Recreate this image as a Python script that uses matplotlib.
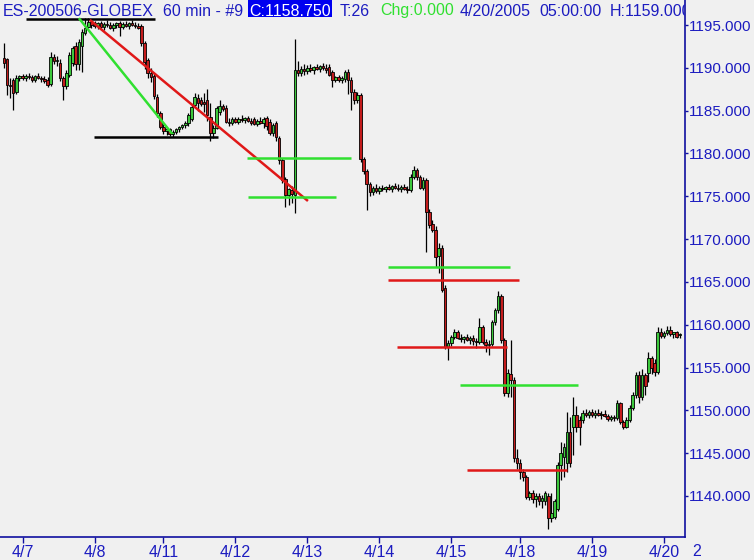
import numpy as np
import matplotlib.pyplot as plt
from matplotlib.patches import Rectangle

# 60 min bars, ES-200506 GLOBEX, 4/6 evening .. 4/20 05:00
opens = [
    1191.2, 1191.0, 1188.0, 1188.6, 1187.2, 1188.8,
    1189.0, 1188.8, 1189.0, 1188.9, 1188.6, 1189.0, 1188.8, 1188.7, 1188.6, 1188.1, 1191.3, 1190.8,
    1190.6, 1188.8, 1187.9, 1189.2, 1190.6, 1192.6, 1190.5, 1192.5, 1194.1, 1194.8, 1195.3,
    1195.0, 1194.9, 1195.2, 1194.8, 1195.1, 1195.0, 1194.7, 1195.0, 1195.2, 1194.8, 1195.1, 1194.9,
    1195.2, 1195.0, 1194.9, 1194.9, 1192.9, 1190.9, 1189.4, 1189.0, 1186.6, 1184.7,
    1183.1, 1182.6, 1182.8, 1182.3, 1182.5, 1182.8, 1183.1, 1183.3, 1183.5, 1184.0, 1185.6, 1186.5,
    1186.2, 1186.0, 1186.2, 1184.3, 1182.4, 1183.0, 1184.8, 1185.5, 1185.3, 1183.7, 1183.5,
    1184.0, 1183.7, 1184.0, 1183.9, 1184.1, 1183.8, 1184.0, 1183.4, 1183.8, 1183.6, 1184.1, 1183.7,
    1182.4, 1183.5, 1181.8, 1179.2, 1177.0, 1175.2, 1175.7, 1175.2, 1189.7, 1189.4, 1189.9,
    1189.6, 1190.0, 1189.7, 1190.1, 1189.9, 1190.2, 1190.0, 1190.1, 1189.5, 1188.6, 1188.9, 1188.6,
    1188.7, 1189.5, 1188.6, 1187.2, 1186.2, 1186.8, 1179.3, 1178.0, 1176.4, 1175.5, 1176.0,
    1175.6, 1176.0, 1175.8, 1176.1, 1175.9, 1176.2, 1176.0, 1175.8, 1176.1, 1175.9, 1175.7, 1177.3,
    1178.1, 1177.2, 1176.0, 1176.9, 1173.2, 1171.8, 1171.1, 1168.0, 1169.0, 1164.3, 1157.4,
    1157.9, 1158.6, 1159.2, 1158.5, 1158.3, 1158.6, 1158.2, 1158.5, 1158.1, 1158.0, 1159.7,
    1158.0, 1157.6, 1157.8, 1160.3, 1161.7, 1163.3, 1158.2, 1152.0, 1154.2, 1153.6, 1144.4,
    1143.8, 1142.8, 1142.2, 1139.9, 1140.3, 1139.6, 1140.0, 1139.4, 1139.4, 1140.0, 1137.4, 1137.6,
    1138.5, 1143.6, 1144.6, 1143.8, 1147.5, 1148.0, 1149.5, 1148.9, 1148.9, 1149.7, 1149.4,
    1149.8, 1149.5, 1149.7, 1149.4, 1149.6, 1149.3, 1149.0, 1149.2, 1149.1, 1150.8, 1148.6, 1148.1,
    1148.9, 1150.3, 1151.8, 1154.1, 1151.6, 1154.1, 1154.4, 1156.1, 1155.5, 1154.5, 1159.2,
    1158.7, 1159.0, 1159.4, 1158.9, 1159.1, 1158.75,
]
highs = [
    1192.9, 1191.2, 1188.8, 1188.8, 1189.2, 1189.2,
    1189.3, 1189.3, 1189.4, 1189.2, 1189.2, 1189.4, 1189.1, 1189.0, 1188.9, 1191.8, 1191.6, 1191.4,
    1191.0, 1189.0, 1189.8, 1191.8, 1192.6, 1193.0, 1193.4, 1194.5, 1195.8, 1195.8, 1195.7,
    1195.5, 1195.4, 1195.5, 1195.3, 1195.6, 1195.3, 1195.2, 1195.4, 1195.5, 1195.3, 1195.5, 1195.3,
    1195.6, 1195.3, 1195.2, 1195.1, 1193.1, 1191.2, 1190.0, 1189.4, 1186.9, 1185.0,
    1183.4, 1183.0, 1183.0, 1182.7, 1183.0, 1183.2, 1183.4, 1183.8, 1184.7, 1185.6, 1187.1, 1187.0,
    1186.6, 1187.1, 1187.5, 1185.9, 1183.3, 1185.5, 1186.2, 1185.8, 1185.6, 1184.1, 1184.2,
    1184.3, 1184.2, 1184.5, 1184.2, 1184.4, 1184.1, 1184.3, 1184.0, 1184.2, 1184.3, 1184.4, 1184.0,
    1183.5, 1183.8, 1182.0, 1179.5, 1177.3, 1176.0, 1176.2, 1193.4, 1190.8, 1190.2, 1190.4,
    1190.3, 1190.4, 1190.2, 1190.5, 1190.3, 1190.6, 1190.4, 1190.4, 1189.8, 1189.1, 1189.2, 1189.0,
    1189.8, 1189.9, 1188.9, 1187.5, 1187.2, 1187.1, 1179.6, 1178.2, 1176.7, 1176.2, 1176.4,
    1176.2, 1176.3, 1176.2, 1176.4, 1176.3, 1176.5, 1176.4, 1176.3, 1176.4, 1176.2, 1177.6, 1178.5,
    1178.3, 1177.5, 1177.2, 1177.1, 1173.5, 1172.2, 1171.5, 1169.5, 1169.3, 1164.6, 1158.2,
    1158.8, 1159.5, 1159.4, 1158.9, 1158.7, 1158.9, 1158.7, 1158.8, 1158.5, 1160.8, 1160.0,
    1158.3, 1158.2, 1160.5, 1161.9, 1163.9, 1163.6, 1158.5, 1154.8, 1158.2, 1153.9, 1145.5,
    1144.3, 1143.2, 1142.5, 1140.6, 1140.7, 1140.3, 1140.4, 1140.1, 1140.6, 1140.3, 1140.4, 1139.6,
    1144.0, 1146.3, 1146.2, 1149.8, 1149.2, 1151.6, 1150.5, 1149.3, 1150.0, 1150.2, 1150.0,
    1150.1, 1150.0, 1150.1, 1149.9, 1150.0, 1149.6, 1149.4, 1149.5, 1151.2, 1151.0, 1148.9, 1149.2,
    1150.6, 1152.1, 1154.5, 1154.6, 1154.8, 1154.4, 1156.8, 1156.4, 1156.0, 1159.7, 1159.6,
    1159.3, 1159.8, 1159.9, 1159.2, 1159.3, 1159.0,
]
lows = [
    1190.0, 1186.8, 1186.5, 1185.1, 1186.9, 1188.5,
    1188.6, 1188.5, 1188.7, 1188.4, 1188.4, 1188.7, 1188.3, 1188.2, 1187.8, 1187.9, 1190.5, 1190.2,
    1188.5, 1186.2, 1187.5, 1188.9, 1190.2, 1189.8, 1189.8, 1189.5, 1193.8, 1194.6, 1194.7,
    1194.6, 1194.5, 1194.7, 1194.4, 1194.8, 1194.5, 1194.3, 1194.7, 1193.7, 1194.5, 1194.8, 1194.5,
    1194.9, 1194.6, 1194.5, 1192.6, 1189.9, 1188.8, 1188.4, 1186.4, 1184.3, 1182.8,
    1182.3, 1182.1, 1182.0, 1181.9, 1182.3, 1182.5, 1182.8, 1183.0, 1183.2, 1183.8, 1185.4, 1185.0,
    1185.5, 1184.8, 1183.8, 1181.5, 1181.8, 1182.8, 1184.5, 1184.9, 1183.6, 1183.2, 1183.3,
    1183.5, 1183.4, 1183.7, 1183.5, 1183.7, 1183.3, 1183.3, 1183.2, 1183.4, 1183.0, 1182.7, 1182.2,
    1182.0, 1181.5, 1178.8, 1176.6, 1173.7, 1174.0, 1174.2, 1173.0, 1189.0, 1189.1, 1189.2,
    1189.3, 1189.5, 1189.3, 1189.7, 1189.5, 1189.8, 1189.4, 1189.0, 1187.8, 1188.3, 1188.4, 1188.2,
    1188.4, 1187.0, 1185.1, 1185.8, 1185.9, 1179.0, 1177.6, 1173.4, 1175.0, 1175.2, 1175.4,
    1175.3, 1175.6, 1175.5, 1175.7, 1175.5, 1175.8, 1175.6, 1175.5, 1175.7, 1175.4, 1175.5, 1177.0,
    1176.9, 1175.8, 1175.7, 1168.5, 1171.3, 1170.8, 1166.7, 1166.0, 1163.8, 1157.2, 1155.9,
    1157.5, 1158.3, 1158.3, 1158.0, 1157.9, 1158.1, 1157.8, 1157.6, 1157.3, 1157.8, 1157.8,
    1156.8, 1156.5, 1157.5, 1160.0, 1161.4, 1157.9, 1151.7, 1151.6, 1151.6, 1144.0, 1143.2,
    1142.0, 1141.8, 1139.6, 1139.5, 1139.2, 1138.7, 1139.0, 1138.6, 1139.0, 1136.1, 1137.0, 1137.3,
    1138.2, 1141.9, 1142.2, 1142.8, 1143.4, 1144.8, 1147.5, 1146.0, 1148.5, 1149.2, 1149.1,
    1149.2, 1149.1, 1149.3, 1149.0, 1149.2, 1148.8, 1148.7, 1148.8, 1148.9, 1148.4, 1147.8, 1147.9,
    1148.6, 1150.0, 1151.5, 1150.9, 1151.2, 1151.8, 1153.3, 1154.2, 1154.0, 1154.2, 1158.5,
    1158.4, 1158.8, 1158.7, 1158.4, 1158.5, 1158.5,
]
closes = [
    1190.6, 1188.0, 1187.9, 1187.1, 1188.8, 1189.0,
    1188.8, 1189.0, 1188.9, 1188.6, 1189.0, 1188.8, 1188.7, 1188.5, 1188.0, 1191.3, 1190.8, 1190.9,
    1188.8, 1187.9, 1189.4, 1191.5, 1192.3, 1190.4, 1193.0, 1194.2, 1194.7, 1195.3, 1195.0,
    1194.9, 1195.2, 1194.8, 1195.1, 1195.0, 1194.7, 1195.0, 1195.2, 1194.8, 1195.1, 1194.9, 1195.2,
    1195.0, 1194.9, 1194.7, 1192.9, 1190.7, 1189.4, 1188.9, 1186.7, 1184.7, 1183.1,
    1182.6, 1182.8, 1182.3, 1182.5, 1182.8, 1183.1, 1183.3, 1183.6, 1184.5, 1185.4, 1186.6, 1185.9,
    1185.8, 1185.8, 1184.5, 1182.4, 1183.0, 1185.3, 1185.5, 1185.2, 1183.7, 1183.5, 1184.0,
    1183.7, 1184.0, 1183.9, 1184.1, 1183.8, 1183.6, 1183.4, 1183.8, 1183.6, 1184.0, 1183.2, 1182.4,
    1183.3, 1181.9, 1179.2, 1176.9, 1175.2, 1175.8, 1175.3, 1189.7, 1189.4, 1189.9, 1189.6,
    1190.0, 1189.7, 1190.1, 1189.9, 1190.2, 1190.0, 1189.7, 1189.2, 1188.6, 1188.9, 1188.6, 1188.8,
    1189.5, 1188.6, 1187.2, 1186.2, 1186.8, 1179.3, 1178.0, 1176.4, 1175.5, 1176.0, 1175.6,
    1176.0, 1175.8, 1176.1, 1175.9, 1176.2, 1176.0, 1175.8, 1176.1, 1175.9, 1175.7, 1177.3, 1178.1,
    1177.2, 1176.0, 1176.9, 1173.2, 1171.6, 1171.1, 1167.9, 1169.0, 1164.1, 1157.4, 1157.9,
    1158.6, 1159.2, 1158.5, 1158.3, 1158.6, 1158.2, 1158.5, 1158.1, 1158.0, 1159.7, 1158.0,
    1157.6, 1157.8, 1160.3, 1161.7, 1163.3, 1158.2, 1152.0, 1154.4, 1153.6, 1144.4, 1143.8,
    1142.8, 1142.2, 1139.9, 1140.3, 1139.6, 1140.0, 1139.4, 1139.8, 1140.3, 1137.4, 1138.0, 1139.4,
    1143.6, 1145.0, 1145.7, 1147.5, 1143.8, 1149.5, 1148.1, 1148.0, 1149.7, 1149.4, 1149.8,
    1149.5, 1149.7, 1149.4, 1149.6, 1149.3, 1149.0, 1149.2, 1149.1, 1150.8, 1148.6, 1148.1, 1148.9,
    1150.3, 1151.8, 1154.1, 1151.6, 1154.1, 1152.9, 1156.1, 1154.9, 1154.5, 1159.2, 1158.7,
    1159.0, 1159.4, 1158.9, 1159.1, 1158.6, 1158.75,
]

day_ticks = [6, 29, 51, 74, 97, 120, 143, 165, 188, 211]
day_labels = ['4/7', '4/8', '4/11', '4/12', '4/13', '4/14', '4/15', '4/18', '4/19', '4/20']
price_ticks = [1140, 1145, 1150, 1155, 1160, 1165, 1170, 1175, 1180, 1185, 1190, 1195]

# drawn lines: (bar0, price0, bar1, price1, colour)
lines = [
    (7.1, 1195.7, 48.3, 1195.7, 'black'),
    (28.8, 1181.9, 68.5, 1181.9, 'black'),
    (24.0, 1195.8, 53.8, 1182.3, 'green'),
    (27.5, 1195.6, 97.2, 1174.45, 'red'),
    (77.7, 1179.45, 111.0, 1179.45, 'green'),
    (78.0, 1174.95, 106.2, 1174.95, 'green'),
    (122.8, 1166.7, 161.8, 1166.7, 'green'),
    (122.8, 1165.25, 164.7, 1165.25, 'red'),
    (125.7, 1157.45, 160.8, 1157.45, 'red'),
    (145.8, 1152.95, 183.5, 1152.95, 'green'),
    (148.0, 1143.05, 180.0, 1143.05, 'red'),
]

BG = '#f0f0f0'
BLUE = '#1c1cc0'
AXBLUE = '#1010a0'
UPC = '#3cc83c'
DNC = '#c41c1c'
LINEC = {'black': 'black', 'green': '#30e030', 'red': '#e01818'}

plt.rcParams['font.family'] = ['Liberation Sans', 'DejaVu Sans']

fig = plt.figure(figsize=(7.54, 5.6), dpi=100, facecolor=BG)
W, H = 754.0, 560.0
ax = fig.add_axes([0, 23 / H, 685 / W, 537 / H], facecolor=BG)

o = np.array(opens)
h = np.array(highs)
l = np.array(lows)
c = np.array(closes)
x = np.arange(len(c))
up = c >= o

ax.vlines(x, l, h, color='black', lw=0.9, zorder=2)
lo = np.minimum(o, c)
bh = np.maximum(np.abs(c - o), 0.12)
ax.bar(x[up], bh[up], bottom=lo[up], width=0.82, color=UPC, edgecolor='black', linewidth=0.6, zorder=3)
ax.bar(x[~up], bh[~up], bottom=lo[~up], width=0.82, color=DNC, edgecolor='black', linewidth=0.6, zorder=3)

for x0, p0, x1, p1, col in lines:
    ax.plot([x0, x1], [p0, p1], color=LINEC[col], lw=1.8, zorder=4, solid_capstyle='butt')

ax.set_xlim(-1.21, 217.7)
ax.set_ylim(1135.21, 1197.92)

ax.yaxis.tick_right()
ax.set_yticks(price_ticks)
ax.set_yticklabels(['%.3f' % p for p in price_ticks])
ax.set_xticks(day_ticks)
ax.set_xticklabels(day_labels)
ax.tick_params(axis='y', direction='out', length=2.5, width=1, color=AXBLUE, labelcolor=BLUE,
               labelsize=11, pad=0.5)
ax.tick_params(axis='x', direction='out', length=4, width=1, color=AXBLUE, labelcolor=BLUE,
               labelsize=11.5, pad=1.5)
for s in ['top', 'left']:
    ax.spines[s].set_visible(False)
for s in ['right', 'bottom']:
    ax.spines[s].set_color(AXBLUE)
    ax.spines[s].set_linewidth(1.2)

fig.text(697 / W, 1 - 552 / H, '2', color=BLUE, fontsize=11.5, ha='center', va='center')

# header line
ty = 1 - 15.5 / H
ax.add_patch(Rectangle((248 / W, 1 - 17 / H), 84 / W, 17 / H, transform=fig.transFigure,
                       facecolor='#0000f0', edgecolor='none', zorder=5, clip_on=False))
header = [
    (3, 'ES-200506-GLOBEX', BLUE),
    (163, '60 min - #9', BLUE),
    (249, 'C:1158.750', 'white'),
    (340, 'T:26', BLUE),
    (380, 'Chg:0.000', '#30e030'),
    (460, '4/20/2005', BLUE),
    (539, '05:00:00', BLUE),
    (610, 'H:1159.000', BLUE),
]
for px, s, col in header:
    ax.text(px / W, ty, s, transform=fig.transFigure, color=col, fontsize=11.5,
            va='baseline', ha='left', zorder=6, clip_on=True)

fig.savefig('out.png', dpi=100, facecolor=BG)
